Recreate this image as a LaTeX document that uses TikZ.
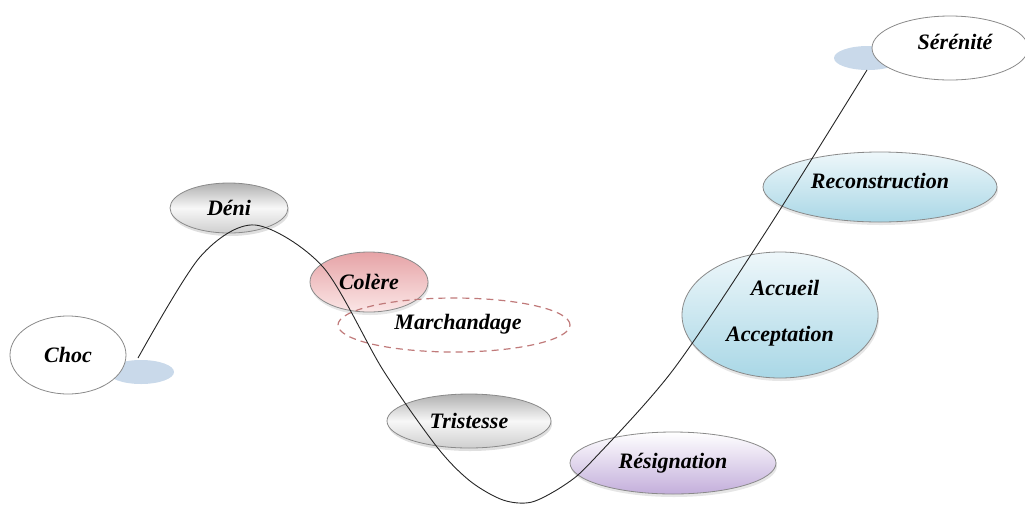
\documentclass[tikz,border=0pt]{standalone}
\usepackage{fontspec}
\setmainfont{Liberation Serif}
\usetikzlibrary{shapes.geometric,shadows}
\definecolor{edgegray}{HTML}{8A8A8A}
\definecolor{shadowblue}{HTML}{C9D9EA}
\definecolor{pinktop}{HTML}{E6A3A6}
\definecolor{pinkbot}{HTML}{FBE6E6}
\definecolor{lavbot}{HTML}{C3AEDB}
\definecolor{bluetop}{HTML}{EEF7FA}
\definecolor{bluebot}{HTML}{A9D7E6}
\definecolor{dashred}{HTML}{C07A7A}
\tikzset{
  labelfont/.style={font=\fontsize{22}{26}\selectfont\bfseries\itshape},
  stage/.style={ellipse, draw=edgegray, line width=0.8pt, inner sep=0pt, labelfont},
  plain/.style={stage, fill=white},
  greystage/.style={stage, top color=gray!62, bottom color=gray!38, middle color=gray!6,
    drop shadow={shadow xshift=1pt, shadow yshift=-3pt, opacity=0.25}},
  pinkstage/.style={stage, top color=pinktop, bottom color=pinkbot,
    drop shadow={shadow xshift=1pt, shadow yshift=-3pt, opacity=0.2}},
  lavstage/.style={stage, top color=white, bottom color=lavbot,
    drop shadow={shadow xshift=1pt, shadow yshift=-3pt, opacity=0.2}},
  bluestage/.style={stage, top color=bluetop, bottom color=bluebot,
    drop shadow={shadow xshift=1pt, shadow yshift=-3pt, opacity=0.2}},
  dashstage/.style={stage, draw=dashred, dash pattern=on 7pt off 5pt, line width=1.2pt},
  glow/.style={ellipse, fill=shadowblue, draw=none, inner sep=0pt},
  curve/.style={draw=black!85, line width=0.9pt}
}
\begin{document}
\begin{tikzpicture}[x=1pt,y=-1pt]
\useasboundingbox (0,0) rectangle (1025,507);
% shadow blobs
\node[glow, minimum width=66, minimum height=24] (chocglow) at (141,372) {};
\node[glow, minimum width=68, minimum height=24] (sereglow) at (868,58) {};
% stages
\node[plain, minimum width=116, minimum height=78] (choc) at (68,355) {Choc};
\node[greystage, minimum width=118, minimum height=50] (deni) at (229,208) {Déni};
\node[pinkstage, minimum width=118, minimum height=60] (colere) at (369,282) {Colère};
\node[dashstage, minimum width=232, minimum height=54] (marchandage) at (454,325) {};
\node[labelfont] (marchtext) at (458,324) {Marchandage};
\node[greystage, minimum width=164, minimum height=54] (tristesse) at (469,421) {Tristesse};
\node[lavstage, minimum width=206, minimum height=62] (resignation) at (673,463) {Résignation};
\node[bluestage, minimum width=196, minimum height=126] (accueil) at (780,315) {};
\node[labelfont] (accueiltext) at (785,288) {Accueil};
\node[labelfont] (acceptext) at (780,336) {Acceptation};
\node[bluestage, minimum width=234, minimum height=70] (reconstruction) at (880,187) {};
\node[labelfont] (recontext) at (880,181) {Reconstruction};
\node[plain, minimum width=156, minimum height=64] (serenite) at (950,48) {};
\node[labelfont] (seretext) at (955,42) {Sérénité};
% curve
\coordinate (start) at (138,358);
\coordinate (finish) at (867,70);
\draw[curve] plot[smooth, tension=0.5] coordinates {(start) (200,257) (255,225) (323,267) (383,370) (437,447) (470,481) (503,500) (532,502) (566,484) (593,460) (673,370) (767,230) (finish)};
\end{tikzpicture}
\end{document}
